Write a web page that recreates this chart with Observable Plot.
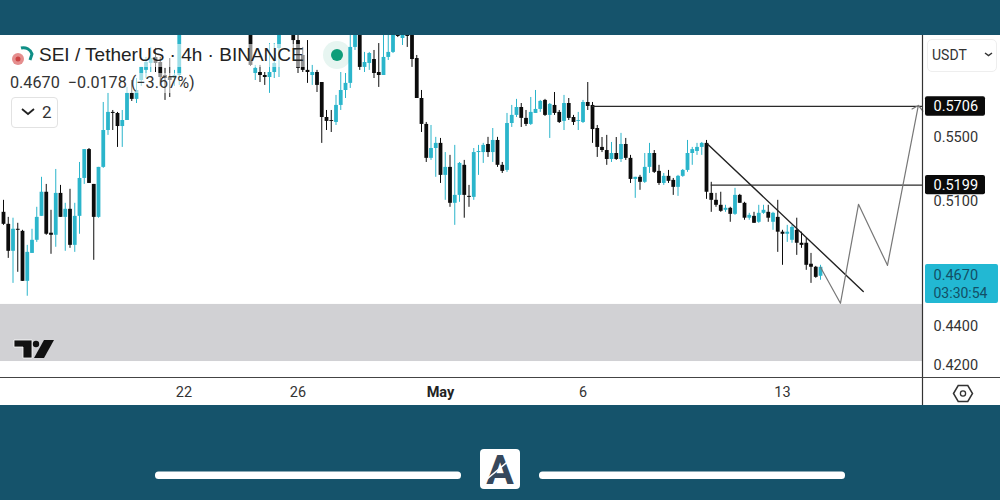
<!DOCTYPE html>
<html>
<head>
<meta charset="utf-8">
<script src="https://cdn.jsdelivr.net/npm/d3@7"></script>
<script src="https://cdn.jsdelivr.net/npm/@observablehq/plot@0.6"></script>
<style>
html,body{margin:0;padding:0;background:#15536b;}
#wrap{position:relative;width:1000px;height:500px;background:#15536b;overflow:hidden;font-family:Roboto,sans-serif;color:#222;}
#panel{position:absolute;left:0;top:35px;width:1000px;height:370px;background:#fff;}
#chart{position:absolute;left:0;top:0;}
.ov{position:absolute;white-space:nowrap;}
</style>
</head>
<body>
<div id="wrap">
  <div id="panel"></div>
  <div id="chart"></div>
  <div class="ov" style="left:36px;top:44px;width:270px;height:23px;background:rgba(255,255,255,.55)"></div>
  <div class="ov" style="left:8px;top:73px;width:190px;height:20px;background:rgba(255,255,255,.55)"></div>
  <div class="ov" style="left:39px;top:43px;font-size:19px;line-height:24px;font-family:'Liberation Sans',sans-serif;color:#222">SEI / TetherUS · 4h · BINANCE</div>
  <div class="ov" style="left:10px;top:73px;font-size:16.2px;line-height:20px;color:#333">0.4670&nbsp; −0.0178 (−3.67%)</div>
  <div class="ov" style="left:11px;top:97px;width:45px;height:29px;border:1px solid #e2e2e2;border-radius:4px;background:#fff;font-size:17px;line-height:29px;color:#333"><span style="position:absolute;left:30px;top:0">2</span></div>
  <div class="ov" style="left:927px;top:39px;width:68px;height:31px;border:1px solid #eee;border-radius:5px;background:#fff;font-size:14px;line-height:31px;color:#333"><span style="position:absolute;left:4px;top:0">USDT</span></div>
  <svg class="ov" style="left:0;top:0" width="1000" height="500" viewBox="0 0 1000 500">
    <circle cx="337" cy="55" r="14" fill="#0f9d7a" fill-opacity=".1"/>
    <circle cx="337" cy="55" r="6" fill="#0f9d7a"/>
    <path d="M21 48 A9 9 0 0 1 32 54 L30 60" fill="none" stroke="#0f8f86" stroke-width="3"/>
    <circle cx="18" cy="59" r="6" fill="#e58e8e"/><circle cx="18" cy="59" r="2.5" fill="#c44"/>
    <path d="M22 109 L28 114 L34 109" fill="none" stroke="#222" stroke-width="1.8"/>
    <path d="M985 53 L988.5 55.5 L992 53" fill="none" stroke="#333" stroke-width="1.5"/>
    <path d="M14 340 H32 V358 H23 V347 H14 Z" fill="#111" stroke="#fff" stroke-width=".8"/>
    <circle cx="36" cy="344" r="3.2" fill="#111"/>
    <path d="M44 340 H54 L44 358 H34 Z" fill="#111"/>
    <path d="M953.5 393.5 L958.2 385.5 H967.8 L972.5 393.5 L967.8 401.5 H958.2 Z" fill="none" stroke="#333" stroke-width="1.5"/>
    <circle cx="963" cy="393.5" r="2.6" fill="none" stroke="#333" stroke-width="1.3"/>
    <rect x="155" y="471.5" width="306" height="7.5" rx="3.5" fill="#fff"/>
    <rect x="539" y="471.5" width="306" height="7.5" rx="3.5" fill="#fff"/>
    <rect x="480" y="449" width="40" height="40" rx="4" fill="#fff"/>
    <text x="500" y="484" text-anchor="middle" font-family="Roboto" font-weight="700" font-size="41" fill="#36485c">A</text>
    <path d="M487 479 L512 458" fill="none" stroke="#fff" stroke-width="1.6"/>
  </svg>
</div>
<script>
const high = [
.5106,.5004,.4999,.4969,.4928,.4841,.4934,.5064,.5247,.5203,
.5046,.5296,.5197,.5088,.5173,.5088,.5340,.5422,.5429,.5203,
.5309,.5733,.5795,.5679,.5666,.5679,.5836,.5884,.5898,.5976,
.6047,.6119,.6112,.6047,.5969,.6039,.5955,.6221,
null,null,null,null,null,null,null,null,null,null,null,null,null,null,
.6221,.5990,.5990,.5940,.6147,.6147,.6221,null,null,.6221,
.6206,.6119,.6169,.5990,.5955,.5870,.5679,.5679,.5781,.5940,
.5933,.6206,.6221,.6221,.6083,.6083,.6097,.6147,.6221,.6221,
.6221,.6221,.6221,.6221,.6221,.6061,.5815,.5599,.5579,.5501,
.5494,.5403,.5385,.5449,.5340,.5353,.5197,.5429,.5449,.5462,
.5501,.5559,.5501,.5340,.5659,.5713,.5754,.5726,.5679,.5767,
.5815,.5747,.5754,.5726,.5801,.5679,.5781,.5760,.5646,.5666,
.5747,.5870,.5733,.5579,.5500,.5514,.5468,.5500,.5527,.5494,
.5385,.5247,.5259,.5397,.5462,.5416,.5322,.5271,.5290,.5240,
.5259,.5296,.5481,.5436,.5462,.5468,.5481,.5216,.5148,.5155,
.5076,.5064,.5179,.5142,.5094,.5028,.5034,.5076,.5076,.5076,
.5034,.5106,.4928,.4957,.4957,.4999,.4917,.4882,.4795,.4722,.4728];
const low = [
.4957,.4767,.4628,.4689,.4639,.4558,.4795,.4858,.5010,.4899,
.4790,.4830,.5004,.4807,.4824,.4801,.4905,.5203,.5209,.4756,
.4999,.5303,.5514,.5546,.5436,.5436,.5612,.5740,.5726,.5843,
.5898,.5940,.5940,.5843,.5747,.5767,.5843,.5850,
null,null,null,null,null,null,null,null,null,null,null,null,null,null,
.5983,.5884,.5870,.5850,.5795,.5898,.5905,null,null,.6097,
.5933,.5940,.5864,.5850,.5801,.5462,.5546,.5533,.5579,.5679,
.5760,.5829,.6097,.5955,.5940,.5955,.5898,.5836,.5919,.6025,
.6075,.6191,.6133,.6119,.5976,.5760,.5533,.5340,.5353,.5247,
.5209,.5106,.5064,.4957,.5094,.4999,.5064,.5106,.5259,.5334,
.5372,.5340,.5309,.5271,.5278,.5566,.5632,.5566,.5572,.5579,
.5659,.5666,.5639,.5494,.5646,.5592,.5546,.5612,.5579,.5546,
.5592,.5679,.5462,.5372,.5403,.5322,.5340,.5353,.5340,.5353,
.5209,.5118,.5167,.5209,.5271,.5271,.5197,.5197,.5209,.5136,
.5130,.5247,.5278,.5322,.5385,.5385,.5112,.5034,.5064,.5034,
.5034,.4975,.5016,.5088,.4987,.4987,.4969,.4969,.5022,.4975,
.4928,.4801,.4728,.4858,.4853,.4784,.4824,.4700,.4628,.4656,.4645];
const open = [
.5034,.4963,.4807,.4934,.4922,.4639,.4795,.4870,.5010,.5155,
.4911,.4899,.5148,.5004,.5052,.4841,.5010,.5240,.5422,.5203,
.5004,.5309,.5546,.5666,.5659,.5572,.5612,.5795,.5754,.5884,
.5955,.6004,.6047,.6011,.5919,.5905,.5898,.5919,
null,null,null,null,null,null,null,null,null,null,null,null,null,null,
.6221,.5933,.5940,.5919,.5905,.5940,.6111,null,null,.6221,
.6169,.6061,.5955,.5919,.5940,.5870,.5632,.5612,.5599,.5713,
.5815,.5864,.6119,.6206,.5976,.6004,.6032,.5940,.5919,.6047,
.6083,.6214,.6184,.6221,.6206,.6039,.5760,.5586,.5366,.5429,
.5462,.5259,.5309,.5088,.5136,.5322,.5130,.5124,.5403,.5403,
.5455,.5403,.5481,.5322,.5290,.5592,.5646,.5699,.5626,.5586,
.5659,.5686,.5747,.5646,.5713,.5666,.5606,.5726,.5632,.5606,
.5599,.5733,.5713,.5559,.5436,.5416,.5359,.5397,.5359,.5455,
.5366,.5234,.5247,.5216,.5309,.5397,.5284,.5209,.5253,.5228,
.5185,.5253,.5290,.5397,.5410,.5436,.5462,.5148,.5106,.5076,
.5046,.5058,.5022,.5136,.5088,.4999,.5010,.4975,.5028,.5034,
.4975,.5004,.4917,.4905,.4870,.4928,.4853,.4853,.4734,.4717,.4667];
const close = [
.4963,.4807,.4934,.4928,.4639,.4801,.4870,.5004,.5155,.4905,
.4899,.5148,.5004,.5052,.4841,.5010,.5240,.5422,.5209,.5004,
.5309,.5546,.5666,.5659,.5572,.5612,.5795,.5754,.5815,.5976,
.6011,.6039,.6004,.5905,.5898,.5884,.5919,.6221,
null,null,null,null,null,null,null,null,null,null,null,null,null,null,
.5990,.5969,.5919,.5905,.5940,.6004,.6221,null,null,.6169,
.5969,.5955,.5940,.5940,.5850,.5632,.5606,.5606,.5713,.5815,
.5864,.6119,.6206,.5976,.6011,.6075,.5933,.5919,.6047,.6083,
.6206,.6199,.6221,.6199,.6032,.5760,.5586,.5366,.5429,.5462,
.5259,.5309,.5088,.5136,.5334,.5136,.5124,.5403,.5410,.5449,
.5403,.5481,.5322,.5284,.5592,.5646,.5699,.5626,.5586,.5666,
.5686,.5740,.5646,.5720,.5659,.5599,.5726,.5626,.5599,.5612,
.5733,.5706,.5552,.5436,.5416,.5359,.5397,.5359,.5455,.5366,
.5234,.5247,.5216,.5309,.5397,.5278,.5209,.5253,.5222,.5185,
.5253,.5290,.5397,.5422,.5436,.5462,.5155,.5106,.5076,.5040,
.5058,.5022,.5136,.5088,.4999,.5016,.4969,.5028,.5046,.4999,
.5028,.4917,.4905,.4917,.4945,.4853,.4841,.4728,.4717,.4661,.4717];

const HOUR = 3600e3;
const may1 = Date.UTC(2024, 4, 1);
const firstOffset = -92;
const barTime = k => new Date(may1 + k * 4 * HOUR);

const candles = high.map((h, i) => ({
  t: barTime(firstOffset + i), high: h, low: low[i], open: open[i], close: close[i]
})).filter(d => d.high != null);

const priceTicks = [0.55, 0.51, 0.44, 0.42];
const dateTicks = [Date.UTC(2024,3,22), Date.UTC(2024,3,26), Date.UTC(2024,4,6), Date.UTC(2024,4,13)].map(d => new Date(d));
const dateLabels = {"22":"22","26":"26","6":"6","13":"13"};
const monthTick = [new Date(may1)];
const levelLines = [{price:0.5706, from:32}, {price:0.5199, from:57}];
const currentPrice = 0.4670;
const trendBars = [56.2, 89];
const trendPrices = [0.5458, 0.4584];
const pathBars = [80, 84.2, 88, 94.1];
const pathPrices = [0.4717, 0.4520, 0.5082, 0.4728];
const pathTargetBar = 100.6, pathTargetPrice = 0.5713;
const zoneLow = 0.4219, zoneHigh = 0.4514;
const UP = "#2bb5cb", DOWN = "#0c0c0c";
const color = d => d.close >= d.open ? UP : DOWN;
const frameStart = new Date(may1 - (440/4.75)*4*HOUR);
const frameEnd = new Date(may1 + (482/4.75)*4*HOUR);
const pageEnd = new Date(may1 + (560/4.75)*4*HOUR);

const chart = Plot.plot({
  width: 1000, height: 500,
  marginTop: 35, marginBottom: 123, marginLeft: 0, marginRight: 78,
  style: {background:"transparent", fontFamily:"Roboto,sans-serif", fontSize:"14.5px", color:"#333", overflow:"visible"},
  x: {type:"utc", domain:[frameStart, frameEnd]},
  y: {type:"log", domain:[0.414, 0.6206], base:10},
  marks: [
    Plot.rect([0], {y1:()=>zoneLow, y2:()=>zoneHigh, fill:"#d1d1d4"}),
    Plot.axisX(dateTicks, {anchor:"bottom", tickSize:0, tickPadding:9, label:null, tickFormat:d=>dateLabels[d.getUTCDate()], fontSize:14.5, fill:"#333"}),
    Plot.axisX(monthTick, {anchor:"bottom", tickSize:0, tickPadding:9, label:null, tickFormat:()=>"May", fontSize:14.5, fontWeight:700, fill:"#222"}),
    Plot.axisY(priceTicks, {anchor:"right", tickSize:0, tickPadding:11, label:null, tickFormat:d=>d.toFixed(4), fontSize:14.5, fill:"#333"}),
    Plot.ruleX(candles, {x:"t", y1:"low", y2:"high", stroke:color, strokeWidth:1, clip:true}),
    Plot.ruleX(candles, {x:"t", y1:"open", y2:"close", stroke:color, strokeWidth:3.8, clip:true}),
    Plot.ruleY(levelLines, {y:"price", x1:d=>barTime(d.from), x2:()=>frameEnd, stroke:"#2a2a2a", strokeWidth:1.2}),
    Plot.line(trendBars.map((b,i)=>({t:barTime(b), p:trendPrices[i]})), {x:"t", y:"p", stroke:"#222", strokeWidth:1.4}),
    Plot.line(pathBars.map((b,i)=>({t:barTime(b), p:pathPrices[i]})), {x:"t", y:"p", stroke:"#777", strokeWidth:1.2}),
    Plot.arrow([0], {x1:()=>barTime(pathBars[3]), y1:()=>pathPrices[3], x2:()=>barTime(pathTargetBar), y2:()=>pathTargetPrice, stroke:"#777", strokeWidth:1.2, headLength:9, headAngle:100}),
    // right-hand price tags
    Plot.rect(levelLines, {y1:d=>d.price*0.9885, y2:d=>d.price*1.0115, insetLeft:925, insetRight:-63, fill:"#0a0a0a", rx:2}),
    Plot.text(levelLines, {y:"price", text:d=>d.price.toFixed(4), frameAnchor:"right", textAnchor:"start", dx:11, fill:"#fff", fontSize:14.5}),
    Plot.rect([currentPrice], {y1:()=>0.4519, y2:()=>0.4733, insetLeft:925, insetRight:-76, fill:"#22b8d3", rx:2}),
    Plot.text([currentPrice], {y:d=>d, text:d=>d.toFixed(4), frameAnchor:"right", textAnchor:"start", dx:11, fill:"#124f66", fontSize:14.5}),
    Plot.text([currentPrice], {y:d=>d, text:()=>"03:30:54", frameAnchor:"right", textAnchor:"start", dx:11, dy:18, fill:"#124f66", fontSize:14}),
    // panel borders
    Plot.ruleX([0], {x:()=>frameEnd, stroke:"#333", strokeWidth:1.2, insetBottom:-28}),
    Plot.ruleY([0], {y:()=>0.414, x1:()=>frameStart, x2:()=>pageEnd, stroke:"#444", strokeWidth:1.2})
  ]
});
document.getElementById("chart").appendChild(chart);
</script>
</body>
</html>
